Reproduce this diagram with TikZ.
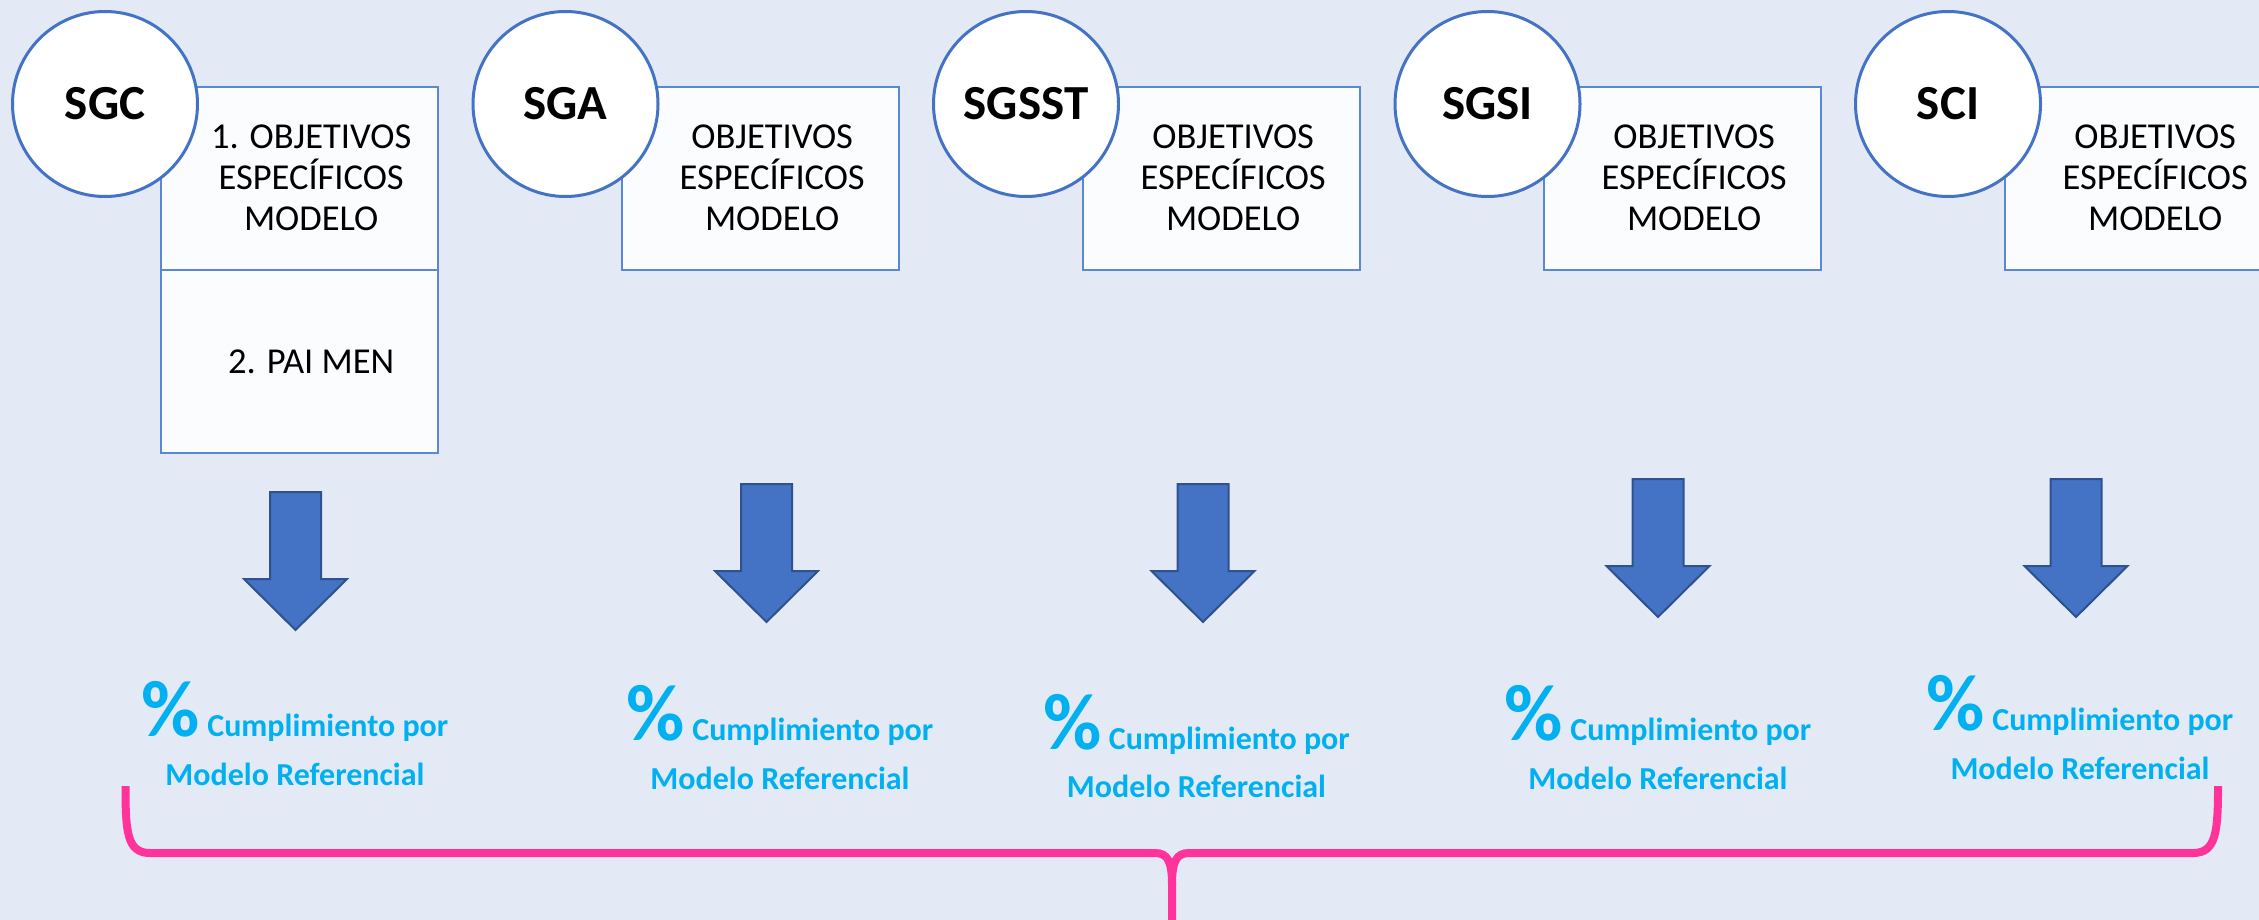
\documentclass[tikz,border=0pt]{standalone}
\usepackage{fontspec}
\setmainfont{Carlito}
\definecolor{bg}{HTML}{E3EAF6}
\definecolor{cblue}{HTML}{4472C4}
\definecolor{bblue}{HTML}{5A88D2}
\definecolor{boxfill}{HTML}{FBFCFE}
\definecolor{arrfill}{HTML}{4472C4}
\definecolor{arrdraw}{HTML}{2F528F}
\definecolor{cyantext}{HTML}{00B0F0}
\definecolor{pink}{HTML}{FF3399}
\tikzset{
  circ/.style={circle, draw=cblue, line width=3pt, fill=white, minimum size=185pt, inner sep=0pt,
    font=\fontsize{49}{55}\selectfont\bfseries},
  obox/.style={rectangle, draw=bblue, line width=2.4pt, fill=boxfill, minimum width=277pt,
    minimum height=183pt, inner sep=0pt, anchor=north west},
  otext/.style={align=center, inner sep=0pt, font=\fontsize{36.5}{41}\selectfont},
  pctline/.style={anchor=base, inner sep=0pt, text=cyantext, font=\fontsize{32}{38}\selectfont\bfseries},
  brace/.style={draw=pink, line width=8pt},
  downarrow/.pic={
    \draw[fill=arrfill, draw=arrdraw, line width=2pt, line join=miter]
      (-25.5,0) -- (25.5,0) -- (25.5,87) -- (51.5,87) -- (0,138) -- (-51.5,87) -- (-25.5,87) -- cycle;
  }
}
\newcommand{\pctsign}{{\fontsize{80}{80}\selectfont\%}}
\begin{document}
\begin{tikzpicture}[x=1pt,y=-1pt]
\useasboundingbox[fill=bg] (0,0) rectangle (2259,920);
\clip (0,0) rectangle (2259,920);

% boxes
\node[obox] (b1) at (160,86) {};
\node[obox] (b1b) at (160,269) {};
\node[obox] (b2) at (621,86) {};
\node[obox] (b3) at (1082,86) {};
\node[obox] (b4) at (1543,86) {};
\node[obox] (b5) at (2004,86) {};

% box texts
\node[otext] (t1) at ([xshift=11.5pt,yshift=1pt]b1.center) {1. OBJETIVOS\\ESPECÍFICOS\\MODELO};
\node[otext] (t1b) at ([xshift=11.5pt]b1b.center) {2. PAI MEN};
\node[otext] (t2) at ([xshift=11.5pt,yshift=1pt]b2.center) {OBJETIVOS\\ESPECÍFICOS\\MODELO};
\node[otext] (t3) at ([xshift=11.5pt,yshift=1pt]b3.center) {OBJETIVOS\\ESPECÍFICOS\\MODELO};
\node[otext] (t4) at ([xshift=11.5pt,yshift=1pt]b4.center) {OBJETIVOS\\ESPECÍFICOS\\MODELO};
\node[otext] (t5) at ([xshift=11.5pt,yshift=1pt]b5.center) {OBJETIVOS\\ESPECÍFICOS\\MODELO};

% circles
\node[circ] (c1) at (105,104) {SGC};
\node[circ] (c2) at (565.5,104) {SGA};
\node[circ] (c3) at (1026,104) {SGSST};
\node[circ] (c4) at (1487.5,104) {SGSI};
\node[circ] (c5) at (1948,104) {SCI};

% block arrows
\pic at (295.5,492) {downarrow};
\pic at (766.5,484) {downarrow};
\pic at (1203,484) {downarrow};
\pic at (1658,479) {downarrow};
\pic at (2076,479) {downarrow};

% percentage texts
\node[pctline] (p1a) at (295,736) {\pctsign{} Cumplimiento por};
\node[pctline] (p1b) at (295,785) {Modelo Referencial};
\node[pctline] (p2a) at (780,740) {\pctsign{} Cumplimiento por};
\node[pctline] (p2b) at (780,789) {Modelo Referencial};
\node[pctline] (p3a) at (1196.5,749) {\pctsign{} Cumplimiento por};
\node[pctline] (p3b) at (1196.5,797) {Modelo Referencial};
\node[pctline] (p4a) at (1658,740) {\pctsign{} Cumplimiento por};
\node[pctline] (p4b) at (1658,789) {Modelo Referencial};
\node[pctline] (p5a) at (2080,730) {\pctsign{} Cumplimiento por};
\node[pctline] (p5b) at (2080,779) {Modelo Referencial};

% brace
\coordinate (bl) at (125.5,786);
\coordinate (br) at (2218,786);
\coordinate (cusp) at (1172,885);
\coordinate (bend) at (1172,930);
\draw[brace] (bl) .. controls (125.5,832) and (127,853) .. (150,853) -- (1155,853)
  .. controls (1168,853) and (1172,862) .. (cusp) -- (bend);
\draw[brace] (br) .. controls (2218,832) and (2216,853) .. (2193,853) -- (1189,853)
  .. controls (1176,853) and (1172,862) .. (cusp);
\end{tikzpicture}
\end{document}
